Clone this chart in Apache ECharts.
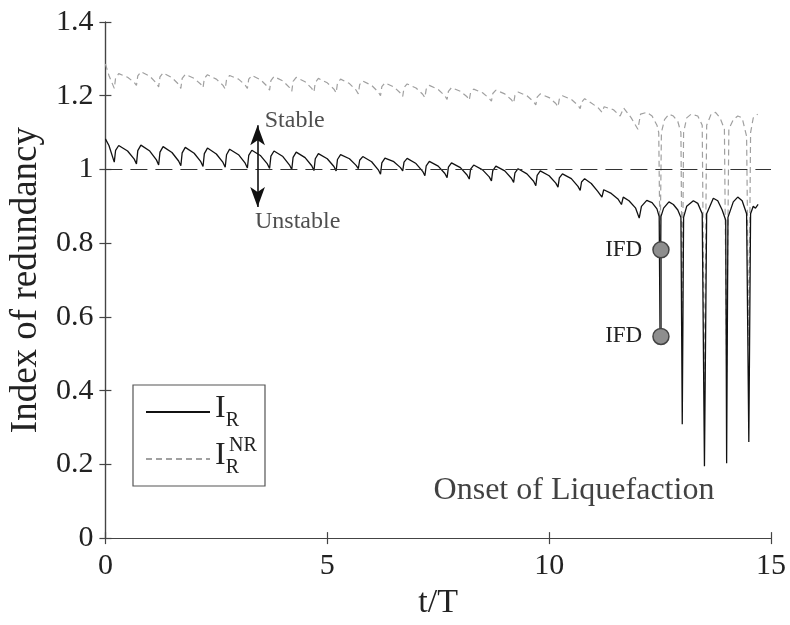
<!DOCTYPE html>
<html><head><meta charset="utf-8">
<script src="https://cdn.jsdelivr.net/npm/echarts@6/dist/echarts.min.js"></script>
<style>html,body{margin:0;padding:0;background:#fff}#c{width:790px;height:625px}</style>
</head><body><div id="c"></div>
<script>
const FONT = "'Liberation Serif','DejaVu Serif',serif";
const xRange = [0, 15];
const xStep = 5;
const yRange = [0, 1.4];
const yStep = 0.2;
const xTitle = 't/T';
const yTitle = 'Index of redundancy';
const seriesNames = ['IR', 'IRNR'];

// Index of redundancy I_R  [t/T, value]
const irData = [
[0,1.083],[0.08,1.065],[0.2,1.020],
[0.23,1.052],[0.3,1.065],[0.5,1.050],[0.65,1.028],[0.7,1.015],
[0.73,1.051],[0.8,1.066],[1.0,1.050],[1.15,1.026],[1.2,1.012],
[1.23,1.047],[1.3,1.062],[1.5,1.046],[1.65,1.023],[1.7,1.010],
[1.73,1.045],[1.8,1.060],[2.0,1.044],[2.15,1.021],[2.2,1.008],
[2.23,1.043],[2.3,1.058],[2.5,1.042],[2.65,1.019],[2.7,1.006],
[2.73,1.040],[2.8,1.055],[3.0,1.040],[3.15,1.017],[3.2,1.004],
[3.23,1.038],[3.3,1.052],[3.5,1.037],[3.65,1.015],[3.7,1.003],
[3.73,1.036],[3.8,1.050],[4.0,1.035],[4.15,1.012],[4.2,1.000],
[4.23,1.033],[4.3,1.047],[4.5,1.032],[4.65,1.010],[4.7,0.997],
[4.73,1.029],[4.8,1.043],[5.0,1.029],[5.15,1.008],[5.2,0.996],
[5.23,1.027],[5.3,1.040],[5.5,1.029],[5.65,1.011],[5.7,1.002],
[5.73,1.025],[5.8,1.035],[6.0,1.021],[6.15,0.999],[6.2,0.987],
[6.23,1.018],[6.3,1.031],[6.5,1.021],[6.65,1.005],[6.7,0.996],
[6.73,1.020],[6.8,1.030],[7.0,1.016],[7.15,0.995],[7.2,0.983],
[7.23,1.010],[7.3,1.022],[7.5,1.009],[7.65,0.989],[7.7,0.978],
[7.73,1.006],[7.8,1.018],[8.0,1.005],[8.15,0.985],[8.2,0.974],
[8.23,1.001],[8.3,1.012],[8.5,0.999],[8.65,0.980],[8.7,0.969],
[8.73,0.997],[8.8,1.009],[9.0,0.996],[9.15,0.976],[9.2,0.965],
[9.23,0.991],[9.3,1.002],[9.5,0.988],[9.65,0.968],[9.7,0.956],
[9.73,0.984],[9.8,0.996],[10.0,0.983],[10.15,0.963],[10.2,0.952],
[10.23,0.977],[10.3,0.988],[10.5,0.975],[10.65,0.954],[10.7,0.943],
[10.73,0.966],[10.8,0.975],[10.95,0.962],[11.1,0.940],[11.19,0.925],[11.23,0.945],
[11.4,0.935],[11.55,0.920],[11.63,0.905],[11.67,0.925],[11.8,0.915],[11.95,0.895],
[12.03,0.868],[12.08,0.900],[12.2,0.916],[12.32,0.910],[12.43,0.893],[12.48,0.872],
[12.5,0.547],[12.52,0.872],[12.58,0.895],[12.7,0.912],[12.8,0.905],[12.9,0.890],[12.97,0.870],
[13.0,0.309],[13.03,0.870],[13.1,0.900],[13.25,0.915],[13.35,0.908],[13.45,0.880],
[13.5,0.195],[13.55,0.880],[13.7,0.922],[13.8,0.915],[13.9,0.890],[13.98,0.862],
[14.0,0.203],[14.03,0.870],[14.15,0.912],[14.25,0.925],[14.35,0.915],[14.45,0.880],
[14.5,0.261],[14.54,0.880],[14.6,0.900],[14.65,0.895],[14.71,0.905]
];

// Index of redundancy I_R^NR  [t/T, value]
const inrData = [
[0,1.286],[0.08,1.255],[0.2,1.220],
[0.23,1.248],[0.3,1.260],[0.5,1.250],[0.65,1.236],[0.7,1.228],
[0.73,1.254],[0.8,1.265],[1.0,1.253],[1.15,1.234],[1.2,1.224],
[1.23,1.251],[1.3,1.262],[1.5,1.249],[1.65,1.231],[1.7,1.220],
[1.73,1.247],[1.8,1.258],[2.0,1.247],[2.15,1.231],[2.2,1.222],
[2.23,1.247],[2.3,1.257],[2.5,1.245],[2.65,1.228],[2.7,1.218],
[2.73,1.244],[2.8,1.255],[3.0,1.245],[3.15,1.229],[3.2,1.220],
[3.23,1.245],[3.3,1.255],[3.5,1.243],[3.65,1.225],[3.7,1.215],
[3.73,1.241],[3.8,1.252],[4.0,1.240],[4.15,1.222],[4.2,1.212],
[4.23,1.239],[4.3,1.250],[4.5,1.238],[4.65,1.220],[4.7,1.210],
[4.73,1.236],[4.8,1.247],[5.0,1.235],[5.15,1.218],[5.2,1.208],
[5.23,1.234],[5.3,1.245],[5.5,1.233],[5.65,1.215],[5.7,1.205],
[5.73,1.230],[5.8,1.240],[6.0,1.228],[6.15,1.210],[6.2,1.200],
[6.23,1.225],[6.3,1.235],[6.5,1.224],[6.65,1.207],[6.7,1.198],
[6.73,1.222],[6.8,1.232],[7.0,1.221],[7.15,1.204],[7.2,1.195],
[7.23,1.218],[7.3,1.228],[7.5,1.217],[7.65,1.200],[7.7,1.190],
[7.73,1.212],[7.8,1.222],[8.0,1.212],[8.15,1.197],[8.2,1.188],
[8.23,1.209],[8.3,1.218],[8.5,1.208],[8.65,1.193],[8.7,1.185],
[8.73,1.206],[8.8,1.215],[9.0,1.205],[9.15,1.189],[9.2,1.180],
[9.23,1.201],[9.3,1.210],[9.5,1.200],[9.65,1.184],[9.7,1.175],
[9.73,1.196],[9.8,1.205],[10.0,1.195],[10.15,1.179],[10.2,1.170],
[10.23,1.191],[10.3,1.200],[10.5,1.190],[10.65,1.174],[10.7,1.165],
[10.73,1.182],[10.8,1.192],[10.95,1.180],[11.1,1.168],[11.19,1.155],[11.24,1.170],
[11.45,1.162],[11.6,1.145],[11.68,1.167],[11.85,1.140],[12.0,1.109],[12.06,1.150],
[12.2,1.155],[12.32,1.145],[12.43,1.120],[12.47,1.100],
[12.5,0.780],[12.53,1.100],[12.6,1.135],[12.7,1.150],[12.8,1.145],[12.9,1.130],[12.97,1.100],
[13.0,0.620],[13.03,1.100],[13.1,1.140],[13.2,1.150],[13.35,1.145],[13.45,1.120],
[13.5,0.400],[13.55,1.120],[13.65,1.150],[13.75,1.155],[13.85,1.140],[13.95,1.110],
[14.0,0.450],[14.05,1.110],[14.15,1.135],[14.25,1.145],[14.35,1.140],[14.45,1.090],
[14.5,0.520],[14.54,1.100],[14.6,1.140],[14.7,1.150]
];

const stabilityLevel = 1.0;
const ifdPoints = [[12.52, 0.547, 'IFD'], [12.52, 0.782, 'IFD']];
const arrowEnds = [[3.43, 0.898], [3.43, 1.12]];
const notes = [[3.58, 1.133, 'Stable'], [3.36, 0.858, 'Unstable']];
const onsetNote = [[10.56, 0.13, 'Onset of Liquefaction']];

const chart = echarts.init(document.getElementById('c'), null, {renderer: 'canvas'});
const axisLine = {show: true, lineStyle: {color: '#444', width: 1.2}};
const inTick = {show: true, inside: true, length: 6, lineStyle: {color: '#444', width: 1.2}};
const fmtY = v => String(+v.toFixed(1));

chart.setOption({
  backgroundColor: '#fff',
  animation: false,
  textStyle: {fontFamily: FONT},
  grid: {left: 98, right: 19, top: 22, bottom: 73, containLabel: false},
  xAxis: [
    {type: 'value', min: xRange[0], max: xRange[1], interval: xStep, position: 'bottom',
     name: xTitle, nameLocation: 'middle', nameGap: 37,
     nameTextStyle: {fontFamily: FONT, fontSize: 34, color: '#222'},
     axisLine, axisTick: inTick, splitLine: {show: false},
     axisLabel: {fontFamily: FONT, fontSize: 30, color: '#222', margin: 13}},
    {type: 'value', min: xRange[0], max: xRange[1], interval: xStep, position: 'top',
     axisLine, axisTick: inTick, splitLine: {show: false}, axisLabel: {show: false}}
  ],
  yAxis: [
    {type: 'value', min: yRange[0], max: yRange[1], interval: yStep, position: 'left',
     name: yTitle, nameLocation: 'middle', nameGap: 50,
     nameTextStyle: {fontFamily: FONT, fontSize: 37, color: '#222'},
     axisLine, axisTick: inTick, splitLine: {show: false},
     axisLabel: {fontFamily: FONT, fontSize: 30, color: '#222', margin: 12, formatter: fmtY}},
    {type: 'value', min: yRange[0], max: yRange[1], interval: yStep, position: 'right',
     axisLine, axisTick: inTick, splitLine: {show: false}, axisLabel: {show: false}}
  ],
  legend: {
    data: seriesNames, orient: 'vertical', left: 133, top: 385,
    padding: [8, 26, 8, 12], itemGap: 9, itemWidth: 64, itemHeight: 14,
    borderColor: '#555', borderWidth: 1.2, backgroundColor: '#fff',
    itemStyle: {color: 'rgba(0,0,0,0)', borderColor: 'rgba(0,0,0,0)', borderWidth: 0},
    formatter: name => '{i|I}{sub|R}',
    textStyle: {
      fontFamily: FONT, color: '#222',
      rich: {
        i: {fontFamily: FONT, fontSize: 32, color: '#222', lineHeight: 38, verticalAlign: 'top'},
        sub: {fontFamily: FONT, fontSize: 20, color: '#222', lineHeight: 38, verticalAlign: 'bottom'}
      }
    }
  },
  graphic: [
    {type: 'text', left: 229, top: 436, z: 100,
     style: {text: 'NR', font: "20px 'Liberation Serif', serif", fill: '#222'}}
  ],
  series: [
    {name: 'IRNR', type: 'line', data: inrData, symbol: 'none', z: 2,
     lineStyle: {color: '#a0a0a0', width: 1.2, type: [6, 4]}, itemStyle: {color: '#a0a0a0'}},
    {name: 'IR', type: 'line', data: irData, symbol: 'none', z: 3,
     lineStyle: {color: '#111', width: 1.3}, itemStyle: {color: '#111'},
     markLine: {silent: true, symbol: 'none', label: {show: false},
       lineStyle: {color: '#333', width: 1.2, type: [17, 8]},
       data: [{yAxis: stabilityLevel}]}},
    {name: 'ifd', type: 'line', data: ifdPoints, z: 5,
     symbol: 'circle', symbolSize: 16,
     lineStyle: {color: '#555', width: 2},
     itemStyle: {color: '#8e8e8e', borderColor: '#444', borderWidth: 1.5},
     label: {show: true, position: 'left', distance: 10, formatter: p => p.data[2],
       fontFamily: FONT, fontSize: 23, color: '#222'}},
    {name: 'arrow', type: 'line', data: [], z: 6,
     markLine: {silent: true, symbol: ['arrow', 'arrow'], symbolSize: [11, 20],
       label: {show: false}, lineStyle: {color: '#111', width: 1.6, type: 'solid'},
       data: [[{coord: arrowEnds[0]}, {coord: arrowEnds[1]}]]}},
    {name: 'notes', type: 'scatter', data: notes, symbolSize: 1, z: 6,
     itemStyle: {color: 'rgba(0,0,0,0)'},
     label: {show: true, position: 'right', distance: 0, formatter: p => p.data[2],
       fontFamily: FONT, fontSize: 24, color: '#222'}},
    {name: 'onset', type: 'scatter', data: onsetNote, symbolSize: 1, z: 6,
     itemStyle: {color: 'rgba(0,0,0,0)'},
     label: {show: true, position: 'inside', formatter: p => p.data[2],
       fontFamily: FONT, fontSize: 32, color: '#111'}}
  ]
});
</script></body></html>
